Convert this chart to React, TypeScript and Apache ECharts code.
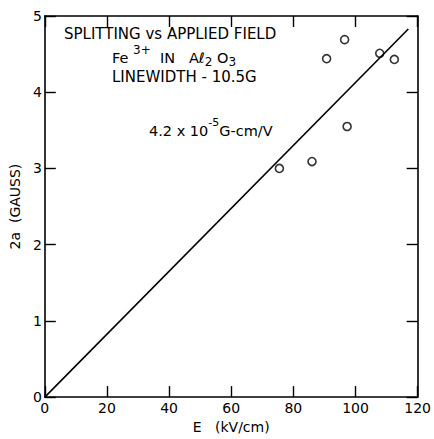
import React, { useEffect, useRef } from "react";
import * as echarts from "echarts";

const xTicks = [0, 20, 40, 60, 80, 100, 120];
const yTicks = [0, 1, 2, 3, 4, 5];
const pointsE = [75.5, 86, 90.7, 96.5, 97.3, 107.8, 112.5];
const pointsSplit = [3.0, 3.09, 4.44, 4.69, 3.55, 4.51, 4.43];
const fitLine: [number, number][] = [
  [0, 0],
  [117, 4.83],
];

const FONT = "DejaVu Sans";

export default function App() {
  const ref = useRef<HTMLDivElement>(null);
  useEffect(() => {
    if (!ref.current) return;
    const chart = echarts.init(ref.current, null, { renderer: "svg" });
    const grid = { left: 43.5, right: 11.5, top: 16, bottom: 36 };
    const axisLine = { lineStyle: { color: "#000", width: 1.6 } };
    const tick = { inside: true, length: 11, lineStyle: { color: "#000", width: 1.4 } };
    const label = { color: "#000", fontFamily: FONT, fontSize: 14 };
    chart.setOption({
      animation: false,
      backgroundColor: "#fff",
      grid,
      xAxis: [
        {
          type: "value",
          min: xTicks[0],
          max: xTicks[xTicks.length - 1],
          interval: 20,
          axisLine: { ...axisLine, onZero: false },
          axisTick: tick,
          axisLabel: { ...label, margin: 4 },
          splitLine: { show: false },
          name: "E   (kV/cm)",
          nameLocation: "middle",
          nameGap: 22,
          nameTextStyle: { color: "#000", fontFamily: FONT, fontSize: 14 },
        },
        {
          type: "value",
          position: "top",
          min: 0,
          max: 120,
          interval: 20,
          axisLine: { ...axisLine, onZero: false },
          axisTick: tick,
          axisLabel: { show: false },
          splitLine: { show: false },
        },
      ],
      yAxis: [
        {
          type: "value",
          min: yTicks[0],
          max: yTicks[yTicks.length - 1],
          interval: 1,
          axisLine: { ...axisLine, onZero: false },
          axisTick: tick,
          axisLabel: { ...label, margin: 3 },
          splitLine: { show: false },
          name: "2a  (GAUSS)",
          nameLocation: "middle",
          nameGap: 20,
          nameTextStyle: { color: "#000", fontFamily: FONT, fontSize: 14 },
        },
        {
          type: "value",
          position: "right",
          min: 0,
          max: 5,
          interval: 1,
          axisLine: { ...axisLine, onZero: false },
          axisTick: tick,
          axisLabel: { show: false },
          splitLine: { show: false },
        },
      ],
      series: [
        {
          type: "line",
          data: fitLine,
          showSymbol: false,
          lineStyle: { color: "#000", width: 1.6 },
        },
        {
          type: "scatter",
          data: pointsE.map((e, i) => [e, pointsSplit[i]]),
          symbol: "circle",
          symbolSize: 8,
          itemStyle: { color: "#fff", borderColor: "#000", borderWidth: 1.6 },
        },
      ],
      graphic: [
        {
          type: "text",
          left: 64,
          top: 26,
          style: { text: "SPLITTING vs APPLIED FIELD", fill: "#000", font: `15px "${FONT}"` },
        },
        {
          type: "text",
          left: 112,
          top: 44,
          style: {
            text: "{a|Fe }{s|3+}{a|  IN   Aℓ}{b|2}{a| O}{b|3}",
            fill: "#000",
            rich: {
              a: { fontSize: 14.5, fontFamily: FONT, lineHeight: 21, verticalAlign: "bottom", fill: "#000" },
              s: { fontSize: 12, fontFamily: FONT, lineHeight: 12, verticalAlign: "top", fill: "#000" },
              b: { fontSize: 12, fontFamily: FONT, lineHeight: 21, verticalAlign: "bottom", fill: "#000", padding: [0, 0, -3, 0] },
            },
          },
        },
        {
          type: "text",
          left: 112,
          top: 69,
          style: { text: "LINEWIDTH - 10.5G", fill: "#000", font: `15px "${FONT}"` },
        },
        {
          type: "text",
          left: 149,
          top: 117,
          style: {
            text: "{a|4.2 x 10}{s|-5}{a|G-cm/V}",
            fill: "#000",
            rich: {
              a: { fontSize: 14.5, fontFamily: FONT, lineHeight: 21, verticalAlign: "bottom", fill: "#000" },
              s: { fontSize: 11, fontFamily: FONT, lineHeight: 12, verticalAlign: "top", fill: "#000" },
            },
          },
        },
      ],
    });
    return () => chart.dispose();
  }, []);
  return <div ref={ref} style={{ width: 434, height: 439, position: "absolute", left: 0, top: 0 }} />;
}
